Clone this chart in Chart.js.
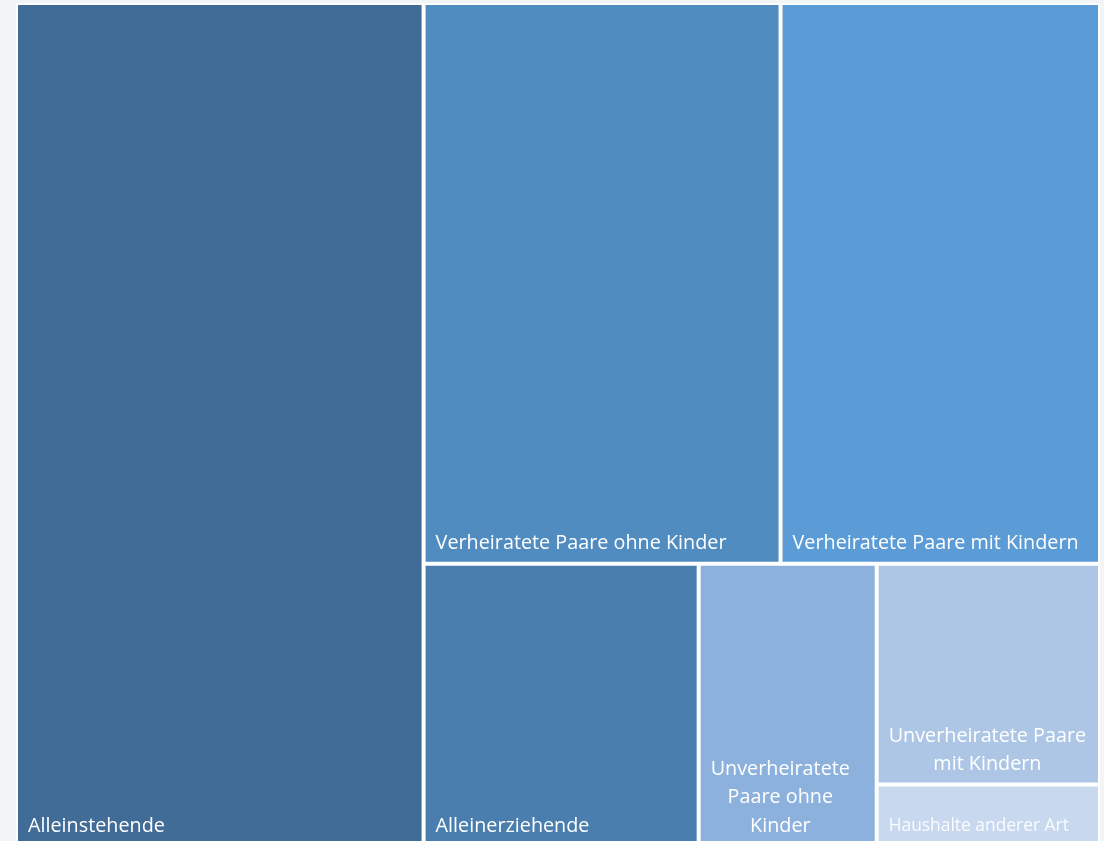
<!DOCTYPE html>
<html>
<head>
<meta charset="utf-8">
<script src="https://cdn.jsdelivr.net/npm/chart.js@4/dist/chart.umd.min.js"></script>
<style>
    html, body { margin: 0; padding: 0; overflow: hidden; }
    body { background: #f3f4f6; width: 1104px; height: 841px; }
    #wrap { position: absolute; left: 16px; top: 3px; width: 1084px; height: 843px; background: #ffffff; }
</style>
</head>
<body>
<div id="wrap"><canvas id="households"></canvas></div>
<script>
const categories = [
    'Alleinstehende',
    'Verheiratete Paare ohne Kinder',
    'Verheiratete Paare mit Kindern',
    'Alleinerziehende',
    'Unverheiratete Paare ohne Kinder',
    'Unverheiratete Paare mit Kindern',
    'Haushalte anderer Art'
];
const shares = [37.6, 21.9, 19.6, 8.5, 5.5, 5.4, 1.5];
const colors = ['#406c97', '#518cc1', '#5b9bd6', '#4a7eae', '#8cb1dd', '#adc6e6', '#c8d9ef'];

const GAP = 2;

function sum (list) {
    return list.reduce((acc, v) => acc + v, 0);
}

// aspect ratio of the worst cell when a row is laid along a side
function worst (row, side) {
    const s = sum(row);
    const hi = Math.max(...row);
    const lo = Math.min(...row);
    return Math.max(side * side * hi / (s * s), (s * s) / (side * side * lo));
}

// squarified treemap layout in pixel space
function squarify (values, box) {
    const total = sum(values);
    const areas = values.map(v => v / total * (box.x1 - box.x0) * (box.y1 - box.y0));
    const rect = { ...box };
    const out = [];
    let i = 0;

    while (i < areas.length) {
        const w = rect.x1 - rect.x0;
        const h = rect.y1 - rect.y0;
        const side = Math.min(w, h);
        let row = [areas[i]];
        let j = i + 1;

        while (j < areas.length) {
            const next = row.concat(areas[j]);
            if (worst(next, side) > worst(row, side)) break;
            row = next;
            j++;
        }

        const rowSum = sum(row);
        if (w >= h) {
            const cw = rowSum / h;
            let y = rect.y0;
            row.forEach(a => {
                const ch = a / cw;
                out.push({ x0: rect.x0, y0: y, x1: rect.x0 + cw, y1: y + ch });
                y += ch;
            });
            rect.x0 += cw;
        } else {
            const rh = rowSum / w;
            let x = rect.x0;
            row.forEach(a => {
                const cw = a / rh;
                out.push({ x0: x, y0: rect.y0, x1: x + cw, y1: rect.y0 + rh });
                x += cw;
            });
            rect.y0 += rh;
        }
        i = j;
    }
    return out;
}

function wrapText (ctx, text, maxWidth) {
    const words = text.split(' ');
    const lines = [];
    let line = '';
    words.forEach(word => {
        const test = line ? line + ' ' + word : word;
        if (line && ctx.measureText(test).width > maxWidth) {
            lines.push(line);
            line = word;
        } else {
            line = test;
        }
    });
    if (line) lines.push(line);
    return lines;
}

function drawLabel (ctx, text, rect) {
    const left = rect.x - rect.width / 2;
    const bottom = rect.base;
    const w = rect.width;
    const h = rect.base - rect.y;
    const small = h < 80;

    ctx.save();
    ctx.font = (small ? '17.4px' : '19.8px') + ' "Open Sans", sans-serif';
    ctx.fillStyle = small ? 'rgba(255,255,255,0.9)' : '#ffffff';
    ctx.textAlign = 'center';
    ctx.textBaseline = 'middle';

    const lines = small ? [text] : wrapText(ctx, text, w - 14);
    const widest = Math.max(...lines.map(l => ctx.measureText(l).width));
    const cx = left + 10 + widest / 2;

    lines.forEach((l, k) => {
        ctx.fillText(l, cx, bottom - 18 - (lines.length - 1 - k) * 28.5);
    });
    ctx.restore();
}

class TreemapController extends Chart.DatasetController {
    update (mode) {
        const meta = this._cachedMeta;
        this.updateElements(meta.data, 0, meta.data.length, mode);
    }

    updateElements (rects, start, count) {
        const meta = this._cachedMeta;
        const xScale = meta.xScale;
        const yScale = meta.yScale;
        const box = {
            x0: xScale.getPixelForValue(xScale.min),
            x1: xScale.getPixelForValue(xScale.max),
            y0: yScale.getPixelForValue(yScale.max),
            y1: yScale.getPixelForValue(yScale.min)
        };
        const values = this.getDataset().data;
        const cells = squarify(values, box);

        for (let i = start; i < start + count; i++) {
            const c = cells[i];
            this.updateElement(rects[i], i, {
                x: (c.x0 + c.x1) / 2,
                y: c.y0 + GAP,
                base: c.y1 - GAP,
                width: c.x1 - c.x0 - 2 * GAP,
                height: c.y1 - c.y0 - 2 * GAP,
                horizontal: false,
                borderSkipped: {},
                inflateAmount: 0,
                enableBorderRadius: false,
                options: this.resolveDataElementOptions(i, 'none')
            }, 'none');
        }
    }

    draw () {
        super.draw();
        const ctx = this._ctx;
        const names = this.getDataset().labels;
        this._cachedMeta.data.forEach((rect, i) => drawLabel(ctx, names[i], rect));
    }
}
TreemapController.id = 'treemap';
TreemapController.defaults = {
    datasetElementType: false,
    dataElementType: 'bar',
    indexAxis: 'x'
};

Chart.register(TreemapController);

new Chart(document.getElementById('households'), {
    type: 'treemap',
    data: {
        datasets: [
            {
                labels: categories,
                data: shares,
                backgroundColor: colors,
                borderWidth: 0
            }
        ]
    },
    options: {
        responsive: true,
        maintainAspectRatio: false,
        animation: false,
        events: [],
        layout: { padding: 0 },
        scales: {
            x: { type: 'linear', min: 0, max: 100, display: false },
            y: { type: 'linear', min: 0, max: 100, display: false }
        },
        plugins: {
            legend: { display: false },
            tooltip: { enabled: false }
        }
    }
});
</script>
</body>
</html>
